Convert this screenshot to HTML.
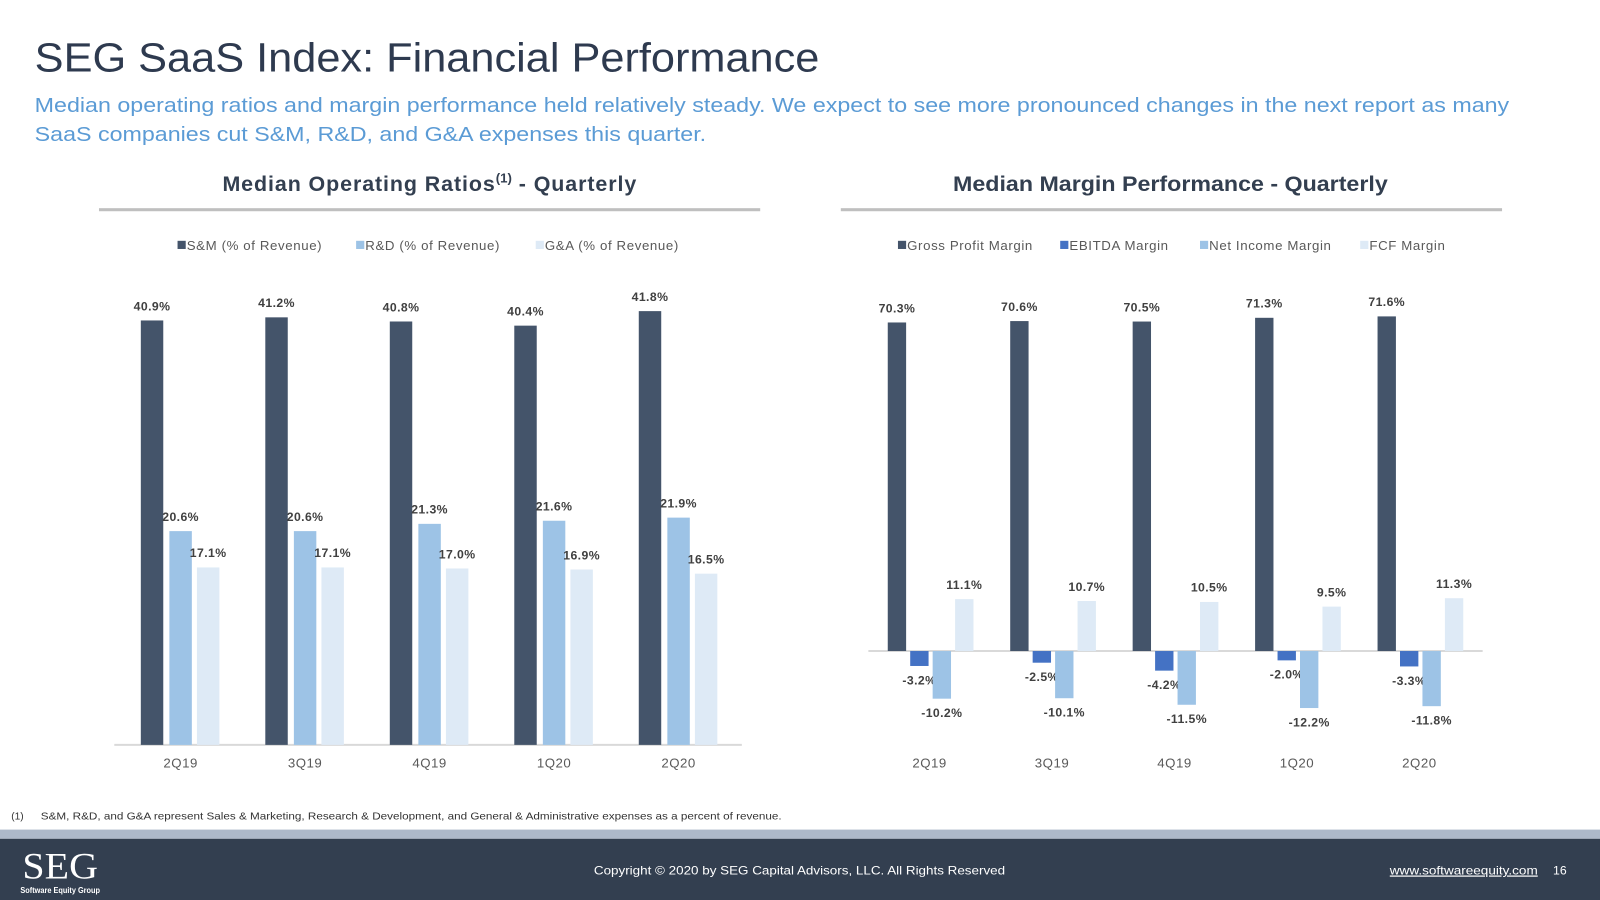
<!DOCTYPE html>
<html><head><meta charset="utf-8"><style>
html,body{margin:0;padding:0;background:#fff;width:1600px;height:900px;overflow:hidden}
svg{display:block;font-family:"Liberation Sans",Arial,sans-serif}
</style></head><body>
<svg id="page" width="1600" height="900" viewBox="0 0 1568 882">
<text x="34" y="70" font-size="40" fill="#2e3a4f" textLength="769" lengthAdjust="spacingAndGlyphs">SEG SaaS Index: Financial Performance</text>
<text x="34" y="110" font-size="20" fill="#5b9bd5" textLength="1445" lengthAdjust="spacingAndGlyphs">Median operating ratios and margin performance held relatively steady. We expect to see more pronounced changes in the next report as many</text>
<text x="34" y="138" font-size="20" fill="#5b9bd5" textLength="658" lengthAdjust="spacingAndGlyphs">SaaS companies cut S&amp;M, R&amp;D, and G&amp;A expenses this quarter.</text>
<text x="218" y="187" font-size="21" font-weight="bold" fill="#333f50" letter-spacing="0.9">Median Operating Ratios<tspan font-size="13" dy="-8" letter-spacing="0">(1)</tspan><tspan dy="8"> - Quarterly</tspan></text>
<rect x="97" y="204" width="648" height="3" fill="#bfbfbf"/>
<text x="934" y="187" font-size="21" font-weight="bold" fill="#333f50" textLength="426" lengthAdjust="spacingAndGlyphs">Median Margin Performance - Quarterly</text>
<rect x="824" y="204" width="648" height="3" fill="#bfbfbf"/>
<g id="left"></g><g id="right"></g>
<text x="11" y="803" font-size="10" fill="#333">(1)</text>
<text x="40" y="803" font-size="10" fill="#333" textLength="726" lengthAdjust="spacingAndGlyphs">S&amp;M, R&amp;D, and G&amp;A represent Sales &amp; Marketing, Research &amp; Development, and General &amp; Administrative expenses as a percent of revenue.</text>
<rect x="0" y="813" width="1568" height="9" fill="#adb9ca"/>
<rect x="0" y="822" width="1568" height="60" fill="#333f50"/>
<text x="22" y="861" font-size="36" font-family="Liberation Serif,serif" fill="#fff" textLength="74" lengthAdjust="spacingAndGlyphs">SEG</text>
<text x="20" y="875" font-size="8" font-weight="bold" fill="#fff" textLength="78" lengthAdjust="spacingAndGlyphs">Software Equity Group</text>
<text x="582" y="857" font-size="12" fill="#fff" textLength="403" lengthAdjust="spacingAndGlyphs">Copyright © 2020 by SEG Capital Advisors, LLC. All Rights Reserved</text>
<text x="1362" y="857" font-size="12" fill="#fff" text-decoration="underline" textLength="145" lengthAdjust="spacingAndGlyphs">www.softwareequity.com</text>
<text x="1522" y="857" font-size="12" fill="#fff">16</text>
</svg>
<script>
const NS='http://www.w3.org/2000/svg';
const categories=['2Q19','3Q19','4Q19','1Q20','2Q20'];
const smValues=[40.9,41.2,40.8,40.4,41.8];
const rdValues=[20.6,20.6,21.3,21.6,21.9];
const gaValues=[17.1,17.1,17.0,16.9,16.5];
const gpValues=[70.3,70.6,70.5,71.3,71.6];
const ebitdaValues=[-3.2,-2.5,-4.2,-2.0,-3.3];
const niValues=[-10.2,-10.1,-11.5,-12.2,-11.8];
const fcfValues=[11.1,10.7,10.5,9.5,11.3];
const leftLegend=['S&M (% of Revenue)','R&D (% of Revenue)','G&A (% of Revenue)'];
const rightLegend=['Gross Profit Margin','EBITDA Margin','Net Income Margin','FCF Margin'];
function mk(tag,attrs,parent,txt){const e=document.createElementNS(NS,tag);for(const k in attrs)e.setAttribute(k,attrs[k]);if(txt!=null)e.textContent=txt;parent.appendChild(e);return e;}
function chart(g,cfg){
  const y=v=>cfg.zeroY-v*cfg.pxPer;
  const x=i=>cfg.x0+i*cfg.step;
  const axis=mk('line',{x1:cfg.axL,x2:cfg.axR,y1:cfg.zeroY,y2:cfg.zeroY,stroke:'#d9d9d9','stroke-width':2},g);
  
  
  let lx=cfg.legX;
  cfg.legend.forEach((name,s)=>{
    const r=mk('rect',{x:lx,y:236,width:8,height:8,fill:cfg.colors[s]},g);
    
    
    const t=mk('text',{x:lx+9,y:245,'font-size':13,fill:'#595959','letter-spacing':'0.6'},g,name);
    
    
    lx+=cfg.legGap[s];
  });
  categories.forEach((c,i)=>{
    const t=mk('text',{x:x(i),y:cfg.catY,'font-size':13,fill:'#595959','text-anchor':'middle','letter-spacing':'0.5'},g,c);
    
    
    cfg.series.forEach((vals,s)=>{
      const v=vals[i];
      const bx=x(i)+cfg.offs[s];
      const top=Math.min(y(v),y(0)), h=Math.abs(y(v)-y(0));
      const b=mk('rect',{x:bx,y:top,width:cfg.bw,height:h,fill:cfg.colors[s]},g);
      
      
      const ly=v>=0?y(v)-10:y(v)+18;
      const lbl=mk('text',{x:bx+cfg.bw/2,y:ly,'font-size':12,'font-weight':'bold',fill:'#404040','text-anchor':'middle','letter-spacing':'0.4'},g,v.toFixed(1)+'%');
      
      
    });
  });
}
chart(document.getElementById('left'),{id:'opratio',zeroY:730,pxPer:10.17,x0:177,step:122,bw:22,offs:[-39,-11,16],
  axL:112,axR:727,catY:752,series:[smValues,rdValues,gaValues],colors:['#44546a','#9dc3e6','#deeaf6'],
  legend:leftLegend,legX:174,legGap:[175,176,170]});
chart(document.getElementById('right'),{id:'margin',zeroY:638,pxPer:4.58,x0:911,step:120,bw:18,offs:[-41,-19,3,25],
  axL:851,axR:1453,catY:752,series:[gpValues,ebitdaValues,niValues,fcfValues],colors:['#44546a','#4472c4','#9dc3e6','#deeaf6'],
  legend:rightLegend,legX:880,legGap:[159,137,157,120]});
</script>
</body></html>
